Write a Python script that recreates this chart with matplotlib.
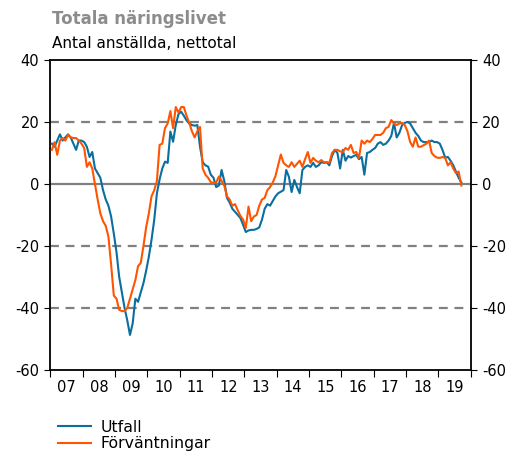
import numpy as np
import matplotlib.pyplot as plt
from matplotlib.ticker import FixedLocator, FixedFormatter

plt.rcParams['font.family'] = 'DejaVu Sans'
plt.rcParams['axes.unicode_minus'] = False

# monthly data, Jan 2007 - Sep 2019
utfall = [
    13, 12, 14, 16, 14, 15, 16, 15, 13, 11, 14, 14,                      # 2007
    13.5, 12, 8.7, 10.3, 5, 3.5, 2, -2, -5, -7, -10.5, -16,              # 2008
    -22, -30, -35, -40, -44, -48.7, -45, -37, -38, -35, -32, -28,        # 2009
    -23.5, -18, -11.6, -3, 1.5, 5, 7.2, 6.8, 16.9, 13.6, 19, 22.5,       # 2010
    23.3, 22, 20.5, 19.5, 19, 18.8, 19, 12, 7, 6, 5.6, 3,                # 2011
    2, -1, -0.5, 4.5, 1, -4.5, -6, -8, -9, -10, -11, -13.2,              # 2012
    -15.5, -15, -14.8, -14.8, -14.5, -14, -11.5, -8, -6.5, -7, -5.5, -4, # 2013
    -3, -2.5, -2, 4.5, 2.3, -2.6, 1.3, -1, -3, 4.5, 5.5, 6,              # 2014
    5.5, 6.8, 5.5, 6, 7, 6.8, 7, 6, 9, 11, 10, 5,                        # 2015
    11, 7.5, 9, 8.5, 9, 9.4, 8, 8.7, 3, 10, 10.3, 11,                    # 2016
    11.6, 13, 13.5, 12.6, 13, 14, 15.5, 19.7, 15, 16.5, 19, 19.7,        # 2017
    20, 19.5, 18, 16.5, 15.5, 14, 13.5, 13.5, 13.5, 14, 13.5, 13.5,      # 2018
    13, 11, 8.5, 8.7, 7.5, 6, 4, 2, 0.5,                                 # 2019
]
forvantningar = [
    11, 13.5, 9.4, 14, 14.8, 14, 15.8, 15, 14.8, 14.8, 14, 13,           # 2007
    11.6, 5.5, 7, 5, 0, -5, -9.5, -12, -13.5, -17, -26, -36,             # 2008
    -37, -40.6, -41, -41, -40, -37, -34, -31, -26.5, -25.5, -20, -14,    # 2009
    -9.5, -4, -2, 1, 12.6, 13, 18, 19.5, 23.5, 18, 24.8, 23,             # 2010
    24.8, 24.8, 22, 19.7, 17, 15, 17, 18.4, 5, 3, 2, 0.6,                # 2011
    0.3, 0.5, 2.4, 1, -0.5, -4, -5, -7, -6.5, -8.5, -10.3, -11.5,        # 2012
    -14.2, -7.3, -12, -10.5, -10, -7, -5, -4.5, -2, -1, 0.5, 2.5,        # 2013
    6, 9.5, 6.8, 6, 5.5, 7, 5.5, 6.5, 7.5, 5.5, 8, 10.3,                 # 2014
    6.8, 8.4, 7.5, 7, 7.7, 7, 7, 6.8, 10, 11, 11, 10.5,                  # 2015
    10.3, 11.6, 11, 12.6, 10, 10.3, 8.4, 14, 13, 14, 13.5, 14.5,         # 2016
    15.8, 15.8, 15.8, 16.5, 18, 18.4, 20.6, 19.5, 19, 19.5, 19.7, 19,    # 2017
    17, 13.5, 12, 15, 12, 12, 12.5, 13, 14, 10, 9, 8.5,                  # 2018
    8.4, 8.7, 8.4, 6, 7, 5, 3.5, 4, -0.5,                                # 2019
]
years = list(range(2007, 2020))
year_labels = ['%02d' % (y % 100) for y in years]

t = 2007 + (np.arange(len(utfall)) + 0.5) / 12

fig = plt.figure(figsize=(5.26, 4.54), dpi=100)
ax = fig.add_axes([0.096, 0.185, 0.799, 0.683])

for lvl in [20, -20, -40]:
    ax.axhline(lvl, color='#808080', lw=1.6, ls=(0, (4, 3)), zorder=1)
ax.axhline(0, color='#808080', lw=1.6, zorder=1)

ax.plot(t, utfall, color='#0a6e9e', lw=1.5, label='Utfall', zorder=3)
ax.plot(t, forvantningar, color='#ff5400', lw=1.5, label='Förväntningar', zorder=3)

ax.set_xlim(2007, 2020)
ax.set_ylim(-60, 40)
ax.set_yticks(range(-60, 41, 20))
ax.tick_params(axis='y', which='both', left=True, right=True, labelleft=True,
               labelright=True, direction='out', length=4, pad=4, labelsize=10.5)

ax.xaxis.set_major_locator(FixedLocator(list(range(2007, 2021))))
ax.xaxis.set_major_formatter(FixedFormatter([''] * 14))
ax.xaxis.set_minor_locator(FixedLocator([y + 0.5 for y in years]))
ax.xaxis.set_minor_formatter(FixedFormatter(year_labels))
ax.tick_params(axis='x', which='major', direction='out', length=5)
ax.tick_params(axis='x', which='minor', length=0, labelsize=10.5, pad=7)

for s in ax.spines.values():
    s.set_linewidth(1.3)

fig.text(0.099, 0.958, 'Totala näringslivet', fontsize=12, fontweight='bold',
         color='#8c8c8c', va='center')
fig.text(0.099, 0.905, 'Antal anställda, nettotal', fontsize=11, va='center')

# reference has the second legend row touching the bottom edge; nudge up so it stays readable
fig.legend(loc='upper left', bbox_to_anchor=(0.095, 0.093), frameon=False,
           fontsize=11.3, handlelength=2.1, labelspacing=0.1, borderpad=0,
           handletextpad=0.6)

fig.savefig('out.png', dpi=100)
